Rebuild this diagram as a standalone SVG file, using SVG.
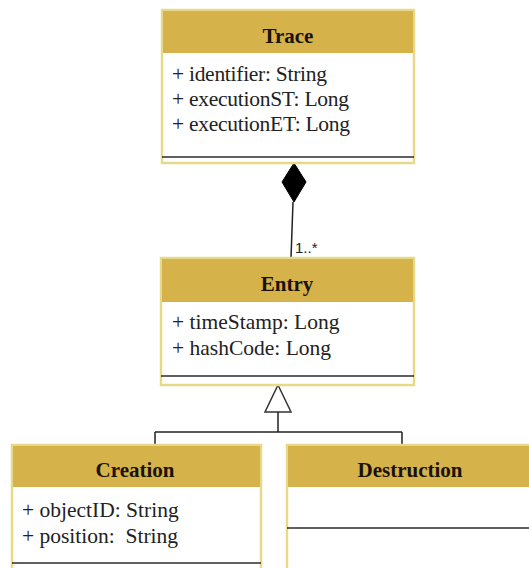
<svg xmlns="http://www.w3.org/2000/svg" width="529" height="568" viewBox="0 0 529 568">
<style>
.box{fill:#ffffff;stroke:#e6d98a;stroke-width:2.5}
.hdr{fill:#d6b24a}
.div{stroke:#2b2b2b;stroke-width:1.6}
.title{font-family:"Liberation Serif",serif;font-weight:bold;font-size:21px;fill:#1a1208;text-anchor:middle}
.attr{font-family:"Liberation Serif",serif;font-size:21.5px;fill:#222}
.conn{stroke:#222;stroke-width:1.5;fill:none}
.lbl{font-family:"Liberation Sans",sans-serif;font-size:15px;fill:#222}
</style>
<rect width="529" height="568" fill="#ffffff"/>
<g id="connectors">
<polygon points="294,163 306,182 294,202 282,182" fill="#000" stroke="#000" stroke-width="1"/>
<line class="conn" x1="293" y1="202" x2="291" y2="258"/>
<text class="lbl" x="295" y="253">1..*</text>
<polygon points="278,385 291,412 265,412" fill="#fff" stroke="#333" stroke-width="1.5"/>
<path class="conn" d="M278,412 V432 M155,432 H402 M155,432 V445 M402,432 V445"/>
</g>
<g id="trace">
<rect class="box" x="162" y="10" width="252" height="153"/>
<rect class="hdr" x="163" y="11" width="250" height="42"/>
<line class="div" x1="162" y1="157" x2="414" y2="157"/>
<text class="title" x="288" y="43">Trace</text>
<text class="attr" x="172" y="81" font-size="18.5" textLength="155">+ identifier: String</text>
<text class="attr" x="172" y="106" font-size="18.5" textLength="177">+ executionST: Long</text>
<text class="attr" x="172" y="131" font-size="18.5" textLength="178">+ executionET: Long</text>
</g>
<g id="entry">
<rect class="box" x="161" y="258" width="253" height="127"/>
<rect class="hdr" x="162" y="259" width="251" height="43"/>
<line class="div" x1="161" y1="376" x2="414" y2="376"/>
<text class="title" x="287" y="291">Entry</text>
<text class="attr" x="172" y="329">+ timeStamp: Long</text>
<text class="attr" x="172" y="355">+ hashCode: Long</text>
</g>
<g id="creation">
<rect class="box" x="12" y="445" width="249" height="130"/>
<rect class="hdr" x="13" y="446" width="247" height="41"/>
<line class="div" x1="12" y1="563" x2="261" y2="563"/>
<text class="title" x="135" y="477">Creation</text>
<text class="attr" x="22" y="517">+ objectID: String</text>
<text class="attr" x="22" y="543" xml:space="preserve">+ position:  String</text>
</g>
<g id="destruction">
<rect class="box" x="287" y="445" width="260" height="130"/>
<rect class="hdr" x="288" y="446" width="258" height="41"/>
<line class="div" x1="287" y1="528" x2="547" y2="528"/>
<text class="title" x="410" y="477">Destruction</text>
</g>
</svg>
